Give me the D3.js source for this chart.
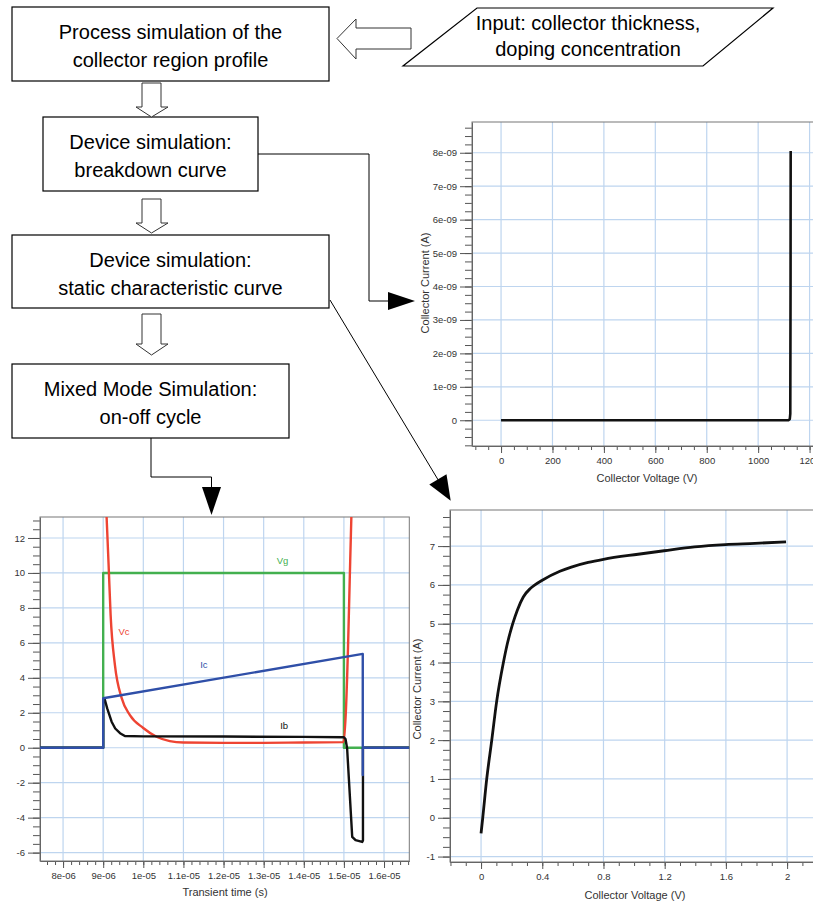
<!DOCTYPE html>
<html>
<head>
<meta charset="utf-8">
<title>Collector design flow</title>
<script src="https://cdn.jsdelivr.net/npm/d3@7"></script>
<style>
  body { margin: 0; background: #fff; }
  svg text { font-family: "Liberation Sans", Arial, sans-serif; }
  .box text { font-size: 20px; fill: #000; text-anchor: middle; }
  .axis text { font-size: 9.5px; fill: #333; }
  .axis path, .axis line { stroke: #555; }
  .grid line { stroke: #bed5ef; stroke-width: 1.2; }
  .title { font-size: 11px; fill: #333; text-anchor: middle; }
  .clabel { font-size: 9.5px; text-anchor: middle; }
</style>
</head>
<body>
<svg id="fig" width="813" height="903"></svg>
<script>
  //1. Data
  // breakdown curve: collector voltage (V) / collector current (A)
  var bdVoltage = [0, 200, 400, 600, 800, 1000, 1100, 1118, 1123, 1125, 1126, 1126.5];
  var bdCurrent = [0, 0, 0, 0, 0, 0, 0, 0.005e-9, 0.03e-9, 0.2e-9, 4e-9, 8.05e-9];
  var bdXTicks = [0, 200, 400, 600, 800, 1000, 1200];
  var bdYTicks = [0, 1e-9, 2e-9, 3e-9, 4e-9, 5e-9, 6e-9, 7e-9, 8e-9];
  var bdYLabels = ["0", "1e-09", "2e-09", "3e-09", "4e-09", "5e-09", "6e-09", "7e-09", "8e-09"];

  // static characteristic: collector voltage (V) / collector current (A)
  var scVoltage = [0, 0.011, 0.037, 0.070, 0.102, 0.146, 0.172, 0.207, 0.237, 0.276, 0.32, 0.352, 0.4, 0.515, 0.59, 0.7, 0.8, 1.026, 1.196, 1.395, 1.596, 1.79, 1.993];
  var scCurrent = [-0.4, 0, 1, 2, 3, 4, 4.49, 5, 5.35, 5.69, 5.9, 6.0, 6.12, 6.35, 6.46, 6.58, 6.66, 6.79, 6.88, 6.98, 7.04, 7.07, 7.11];
  var scXTicks = [0, 0.4, 0.8, 1.2, 1.6, 2];
  var scXLabels = ["0", "0.4", "0.8", "1.2", "1.6", "2"];
  var scYTicks = [-1, 0, 1, 2, 3, 4, 5, 6, 7];
  var scYLabels = ["-1", "0", "1", "2", "3", "4", "5", "6", "7"];

  // on-off cycle, time in microseconds
  var vgTime  = [7.425, 9.0, 9.0, 15.0, 15.0, 16.63];
  var vgValue = [0, 0, 10, 10, 0, 0];
  var vcTime  = [9.06, 9.085, 9.135, 9.185, 9.292, 9.459, 9.666, 9.998, 10.33, 10.66, 11.0, 12.0, 13.0, 14.0, 14.99, 15.045, 15.102, 15.144, 15.187, 15.21];
  var vcValue = [14.5, 13.2, 10.47, 7.6, 4.74, 2.85, 1.87, 1.13, 0.63, 0.38, 0.3, 0.28, 0.28, 0.3, 0.32, 1.87, 5.7, 9.5, 13.3, 15];
  var icTime  = [7.425, 9.0, 9.0, 15.47, 15.47, 15.47, 16.63];
  var icValue = [0, 0, 2.83, 5.37, -1.56, 0, 0];
  var ibTime  = [7.425, 9.0, 9.0, 9.04, 9.1, 9.21, 9.3, 9.42, 9.54, 10.0, 12.0, 14.0, 15.0, 15.04, 15.08, 15.207, 15.29, 15.456, 15.475, 15.475, 16.63];
  var ibValue = [0, 0, 2.6, 2.75, 2.25, 1.49, 1.1, 0.83, 0.67, 0.65, 0.64, 0.62, 0.6, 0.5, -0.03, -5.1, -5.29, -5.39, -5.3, 0, 0];
  var trXTicks = [8, 9, 10, 11, 12, 13, 14, 15, 16];
  var trXLabels = ["8e-06", "9e-06", "1e-05", "1.1e-05", "1.2e-05", "1.3e-05", "1.4e-05", "1.5e-05", "1.6e-05"];
  var trYTicks = [-6, -4, -2, 0, 2, 4, 6, 8, 10, 12];
  var trYLabels = ["-6", "-4", "-2", "0", "2", "4", "6", "8", "10", "12"];
  var trNames = ["Vg", "Vc", "Ib", "Ic"];

  //2. Layout / style
  var colors = { Vg: "#43b04f", Vc: "#ee4433", Ib: "#111", Ic: "#2f4fa8" };
  var labelAt = { Vg: [13.47, 10.5], Vc: [9.52, 6.45], Ic: [11.51, 4.59], Ib: [13.51, 1.1] };

  var svg = d3.select("#fig");
  svg.append("rect").attr("width", 813).attr("height", 903).attr("fill", "#fff");

  //3. Flowchart
  var boxes = [
    { x: 12, y: 7, w: 317, h: 74, lines: ["Process simulation of the", "collector region profile"] },
    { x: 43, y: 117, w: 215, h: 74, lines: ["Device simulation:", "breakdown curve"] },
    { x: 12, y: 235, w: 317, h: 73, lines: ["Device simulation:", "static characteristic curve"] },
    { x: 12, y: 364, w: 277, h: 74, lines: ["Mixed Mode Simulation:", "on-off cycle"] }
  ];
  var bg = svg.selectAll("g.box").data(boxes).enter().append("g").attr("class", "box");
  bg.append("rect")
    .attr("x", function(d) { return d.x; }).attr("y", function(d) { return d.y; })
    .attr("width", function(d) { return d.w; }).attr("height", function(d) { return d.h; })
    .attr("fill", "#fff").attr("stroke", "#000").attr("stroke-width", 1.2);
  bg.each(function(d) {
    var cx = d.x + d.w / 2, cy = d.y + d.h / 2;
    d3.select(this).selectAll("text").data(d.lines).enter().append("text")
      .attr("x", cx).attr("y", function(t, i) { return cy - 5 + i * 28; })
      .text(function(t) { return t; });
  });

  // input parallelogram
  var inp = svg.append("g").attr("class", "box");
  inp.append("polygon").attr("points", "477,8 773,8 703,66 403,66")
    .attr("fill", "#fff").attr("stroke", "#000").attr("stroke-width", 1.2);
  inp.selectAll("text").data(["Input: collector thickness,", "doping concentration"]).enter().append("text")
    .attr("x", 588).attr("y", function(t, i) { return 30 + i * 26; }).text(function(t) { return t; });

  // hollow block arrows
  function downArrow(top, headY, tip) {
    return [[142, top], [161, top], [161, headY], [168, headY], [151.5, tip], [136, headY], [142, headY]];
  }
  var hollow = [
    downArrow(83, 107, 117),
    downArrow(199, 223, 233),
    downArrow(314, 344, 355),
    [[337, 38.5], [356, 19], [356, 28], [411, 28], [411, 49], [356, 49], [356, 59]]
  ];
  svg.selectAll("polygon.hollow").data(hollow).enter().append("polygon").attr("class", "hollow")
    .attr("points", function(d) { return d.join(" "); })
    .attr("fill", "#fff").attr("stroke", "#333").attr("stroke-width", 1);

  // connectors
  var connectors = [
    [[258, 154], [369, 154], [369, 301], [392, 301]],
    [[151, 438], [151, 477], [211.5, 477], [211.5, 490]],
    [[330, 300], [440, 483]]
  ];
  svg.selectAll("polyline.conn").data(connectors).enter().append("polyline").attr("class", "conn")
    .attr("points", function(d) { return d.join(" "); })
    .attr("fill", "none").attr("stroke", "#000").attr("stroke-width", 1);
  var heads = [
    [[388, 292], [415, 301], [388, 310]],
    [[202, 487], [221, 487], [211.5, 515]],
    [[429.3, 484.4], [450.7, 500.7], [446.5, 474.2]]
  ];
  svg.selectAll("polygon.head").data(heads).enter().append("polygon").attr("class", "head")
    .attr("points", function(d) { return d.join(" "); }).attr("fill", "#000");

  //4. Chart panels
  var clipN = 0;
  function panel(x, y, o) {
    var g = svg.append("g");
    var x0 = x.range()[0], x1 = x.range()[1], yb = y.range()[0], yt = y.range()[1];
    g.append("rect").attr("x", x0).attr("y", yt).attr("width", x1 - x0).attr("height", yb - yt).attr("fill", "#fff");
    var grid = g.append("g").attr("class", "grid");
    grid.selectAll("line.v").data(o.xTicks).enter().append("line")
      .attr("x1", x).attr("x2", x).attr("y1", yt).attr("y2", yb);
    grid.selectAll("line.h").data(o.yTicks).enter().append("line")
      .attr("y1", y).attr("y2", y).attr("x1", x0).attr("x2", x1);

    var inX = function(v) { var d = x.domain(); return v >= d[0] && v <= d[1]; };
    var inY = function(v) { var d = y.domain(); return v >= d[0] && v <= d[1]; };

    g.append("g").attr("class", "axis").attr("transform", "translate(0," + yb + ")")
      .call(d3.axisBottom(x).tickValues(o.xMinor.filter(inX)).tickSize(4).tickFormat("").tickSizeOuter(0))
      .select(".domain").remove();
    g.append("g").attr("class", "axis").attr("transform", "translate(0," + yb + ")")
      .call(d3.axisBottom(x).tickValues(o.xTicks).tickSize(7).tickPadding(4).tickSizeOuter(0)
        .tickFormat(function(d, i) { return o.xLabels[i]; }));
    g.append("g").attr("class", "axis").attr("transform", "translate(" + x0 + ",0)")
      .call(d3.axisLeft(y).tickValues(o.yMinor.filter(inY)).tickSize(7).tickFormat("").tickSizeOuter(0))
      .select(".domain").remove();
    g.append("g").attr("class", "axis").attr("transform", "translate(" + x0 + ",0)")
      .call(d3.axisLeft(y).tickValues(o.yTicks).tickSize(12).tickPadding(3).tickSizeOuter(0)
        .tickFormat(function(d, i) { return o.yLabels[i]; }));

    g.append("rect").attr("x", x0).attr("y", yt).attr("width", x1 - x0).attr("height", yb - yt)
      .attr("fill", "none").attr("stroke", "#777").attr("stroke-width", 1);

    g.append("text").attr("class", "title").attr("x", o.xTitleAt[0]).attr("y", o.xTitleAt[1]).text(o.xTitle);
    if (o.yTitle) {
      g.append("text").attr("class", "title")
        .attr("transform", "translate(" + o.yTitleAt[0] + "," + o.yTitleAt[1] + ") rotate(-90)")
        .attr("dy", "0.35em").text(o.yTitle);
    }

    var id = "clip" + (clipN++);
    svg.append("clipPath").attr("id", id).append("rect")
      .attr("x", x0).attr("y", yt).attr("width", x1 - x0).attr("height", yb - yt);
    return g.append("g").attr("clip-path", "url(#" + id + ")");
  }

  // breakdown
  var xA = d3.scaleLinear().domain([-113, 1330]).range([472, 843]);
  var yA = d3.scaleLinear().domain([-0.77e-9, 8.92e-9]).range([446, 122]);
  var pA = panel(xA, yA, {
    xTicks: bdXTicks, xLabels: bdXTicks.map(String), yTicks: bdYTicks, yLabels: bdYLabels,
    xMinor: d3.range(-2, 27).map(function(k) { return k * 50; }),
    yMinor: d3.range(-3, 36).map(function(k) { return k * 0.25e-9; }),
    xTitle: "Collector Voltage (V)", xTitleAt: [647, 482],
    yTitle: "Collector Current (A)", yTitleAt: [425, 283]
  });
  pA.append("path").datum(d3.zip(bdVoltage, bdCurrent))
    .attr("fill", "none").attr("stroke", "#111").attr("stroke-width", 2.6).attr("stroke-linejoin", "round")
    .attr("d", d3.line().x(function(d) { return xA(d[0]); }).y(function(d) { return yA(d[1]); }));

  // static characteristic
  var xB = d3.scaleLinear().domain([-0.203, 2.2]).range([450, 817.7]);
  var yB = d3.scaleLinear().domain([-1.14, 7.93]).range([862, 510]);
  var pB = panel(xB, yB, {
    xTicks: scXTicks, xLabels: scXLabels, yTicks: scYTicks, yLabels: scYLabels,
    xMinor: d3.range(-2, 23).map(function(k) { return k / 10; }),
    yMinor: d3.range(-4, 32).map(function(k) { return k / 4; }),
    xTitle: "Collector Voltage (V)", xTitleAt: [635, 899],
    yTitle: "Collector Current (A)", yTitleAt: [417, 689]
  });
  pB.append("path").datum(d3.zip(scVoltage, scCurrent))
    .attr("fill", "none").attr("stroke", "#111").attr("stroke-width", 2.8).attr("stroke-linejoin", "round")
    .attr("d", d3.line().curve(d3.curveMonotoneX).x(function(d) { return xB(d[0]); }).y(function(d) { return yB(d[1]); }));

  // on-off cycle
  var xC = d3.scaleLinear().domain([7.425, 16.63]).range([40, 409.3]);
  var yC = d3.scaleLinear().domain([-6.48, 13.2]).range([861, 517]);
  var pC = panel(xC, yC, {
    xTicks: trXTicks, xLabels: trXLabels, yTicks: trYTicks, yLabels: trYLabels,
    xMinor: d3.range(37, 84).map(function(k) { return k / 5; }),
    yMinor: d3.range(-13, 27).map(function(k) { return k / 2; }),
    xTitle: "Transient time (s)", xTitleAt: [225, 896]
  });
  var series = {
    Vg: d3.zip(vgTime, vgValue), Vc: d3.zip(vcTime, vcValue),
    Ib: d3.zip(ibTime, ibValue), Ic: d3.zip(icTime, icValue)
  };
  var lineC = d3.line().x(function(d) { return xC(d[0]); }).y(function(d) { return yC(d[1]); });
  var smoothC = d3.line().curve(d3.curveMonotoneX).x(function(d) { return xC(d[0]); }).y(function(d) { return yC(d[1]); });
  ["Vg", "Vc", "Ib", "Ic"].forEach(function(n) {
    pC.append("path").datum(series[n])
      .attr("fill", "none").attr("stroke", colors[n]).attr("stroke-width", 2.4).attr("stroke-linejoin", "round")
      .attr("d", n === "Vc" ? smoothC : lineC);
  });
  pC.selectAll("text.clabel").data(trNames).enter().append("text").attr("class", "clabel")
    .attr("x", function(n) { return xC(labelAt[n][0]); })
    .attr("y", function(n) { return yC(labelAt[n][1]); })
    .attr("fill", function(n) { return colors[n]; })
    .text(function(n) { return n; });
</script>
</body>
</html>
